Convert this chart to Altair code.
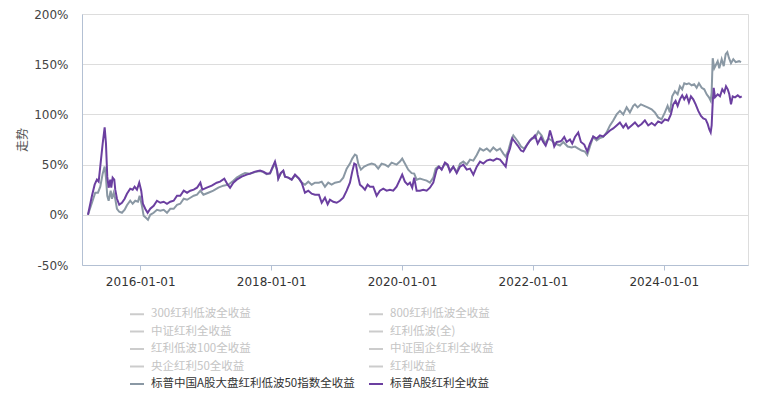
import altair as alt
import pandas as pd

# ---- series names (legend order; the legend fills column by column) ----
SERIES = [
    "300红利低波全收益", "中证红利全收益", "红利低波100全收益", "央企红利50全收益",
    "标普中国A股大盘红利低波50指数全收益",
    "800红利低波全收益", "红利低波(全)", "中证国企红利全收益", "红利收益",
    "标普A股红利全收益",
]
COLORS = ["#cccccc"] * 4 + ["#8a98a4"] + ["#cccccc"] * 4 + ["#6b3fa0"]
ACTIVE = ["标普中国A股大盘红利低波50指数全收益", "标普A股红利全收益"]

# ---- data: (decimal year, cumulative return %) ----
GRAY = [
    (2015.201, 0), (2015.262, 12), (2015.312, 22), (2015.354, 22), (2015.389, 28),
    (2015.426, 41), (2015.456, 48), (2015.476, 37), (2015.496, 19), (2015.517, 14),
    (2015.548, 24), (2015.568, 16), (2015.594, 22), (2015.618, 16), (2015.644, 6),
    (2015.679, 3), (2015.720, 2), (2015.762, 5), (2015.797, 9.5), (2015.847, 14),
    (2015.884, 11), (2015.924, 14), (2015.965, 13), (2015.991, 19), (2016.026, 9),
    (2016.052, -1), (2016.087, -3), (2016.118, -5), (2016.153, 0), (2016.205, 2),
    (2016.255, 5), (2016.306, 4), (2016.358, 5), (2016.408, 2), (2016.458, 6),
    (2016.510, 6), (2016.561, 10), (2016.611, 11), (2016.663, 16), (2016.714, 15),
    (2016.764, 17), (2016.816, 19), (2016.866, 20), (2016.917, 24), (2016.963, 20),
    (2017.039, 22), (2017.115, 24), (2017.192, 27), (2017.268, 29), (2017.345, 30),
    (2017.421, 34), (2017.473, 37), (2017.549, 40), (2017.600, 41.5), (2017.676, 41),
    (2017.752, 42.5), (2017.829, 43.5), (2017.879, 42.5), (2017.931, 40.5), (2017.982, 41),
    (2018.017, 46), (2018.058, 51), (2018.089, 44), (2018.108, 36), (2018.145, 41),
    (2018.185, 43.5), (2018.211, 38), (2018.261, 37), (2018.313, 35), (2018.364, 39.5),
    (2018.425, 36), (2018.466, 32), (2018.516, 30), (2018.567, 33), (2018.619, 30),
    (2018.669, 32), (2018.730, 32), (2018.772, 33), (2018.822, 28), (2018.872, 32),
    (2018.924, 30), (2018.975, 32), (2019.051, 33), (2019.102, 37), (2019.154, 46),
    (2019.204, 51), (2019.239, 56), (2019.280, 60), (2019.306, 59), (2019.331, 51),
    (2019.372, 45), (2019.422, 48), (2019.484, 50), (2019.536, 51), (2019.586, 50),
    (2019.636, 46), (2019.688, 51), (2019.739, 50), (2019.789, 48), (2019.841, 52),
    (2019.917, 50), (2019.968, 53), (2020.003, 56), (2020.044, 51), (2020.095, 45),
    (2020.147, 41.5), (2020.186, 41), (2020.223, 35), (2020.273, 36), (2020.324, 35),
    (2020.376, 34), (2020.426, 32), (2020.477, 37), (2020.513, 46), (2020.553, 48),
    (2020.605, 45.5), (2020.655, 51), (2020.697, 49), (2020.732, 44), (2020.782, 48),
    (2020.834, 42.5), (2020.885, 51), (2020.935, 53), (2020.987, 50), (2021.037, 55),
    (2021.088, 54), (2021.140, 59.5), (2021.190, 66), (2021.241, 64), (2021.293, 66),
    (2021.343, 63), (2021.393, 67), (2021.445, 64), (2021.496, 66), (2021.546, 61),
    (2021.583, 58), (2021.623, 64), (2021.664, 74), (2021.699, 79), (2021.736, 76),
    (2021.775, 72.5), (2021.817, 68), (2021.867, 66), (2021.919, 71), (2021.980, 76),
    (2022.031, 76.5), (2022.081, 83), (2022.133, 79), (2022.183, 71), (2022.234, 76),
    (2022.286, 74), (2022.336, 71), (2022.413, 69), (2022.463, 72.5), (2022.530, 68),
    (2022.591, 67), (2022.642, 68), (2022.692, 66), (2022.744, 64), (2022.794, 63),
    (2022.830, 59.5), (2022.871, 68), (2022.921, 77.5), (2022.973, 74), (2023.024, 76.5),
    (2023.074, 77.5), (2023.126, 82), (2023.177, 89), (2023.227, 94), (2023.279, 100),
    (2023.329, 103.5), (2023.380, 100), (2023.432, 107), (2023.482, 102), (2023.533, 108.5),
    (2023.559, 110), (2023.600, 107), (2023.650, 110), (2023.701, 108.5), (2023.753, 107),
    (2023.814, 105), (2023.864, 102), (2023.914, 97), (2023.966, 95), (2024.017, 102),
    (2024.058, 108.5), (2024.093, 102), (2024.128, 118), (2024.170, 123), (2024.211, 120),
    (2024.246, 128), (2024.281, 125), (2024.312, 131), (2024.348, 130), (2024.383, 131),
    (2024.425, 129), (2024.464, 130), (2024.501, 126.5), (2024.536, 131), (2024.578, 126.5),
    (2024.617, 125), (2024.654, 120), (2024.689, 117), (2024.715, 113.5), (2024.730, 122),
    (2024.746, 156), (2024.770, 146), (2024.792, 149), (2024.822, 153), (2024.846, 146),
    (2024.883, 155), (2024.914, 148), (2024.944, 160), (2024.969, 162), (2024.995, 156),
    (2025.025, 151), (2025.060, 155), (2025.097, 152), (2025.148, 153), (2025.178, 152),
]

PURPLE = [
    (2015.201, 0), (2015.262, 19), (2015.303, 30), (2015.338, 35), (2015.364, 33),
    (2015.384, 45), (2015.426, 71), (2015.456, 87), (2015.476, 71), (2015.496, 38),
    (2015.517, 27), (2015.542, 35), (2015.557, 27), (2015.578, 37), (2015.603, 35),
    (2015.618, 25), (2015.644, 16), (2015.679, 10), (2015.720, 12), (2015.762, 16),
    (2015.797, 21), (2015.847, 26), (2015.884, 25), (2015.914, 28), (2015.950, 25),
    (2015.985, 32), (2016.015, 24), (2016.041, 11), (2016.076, 6), (2016.113, 2),
    (2016.153, 6), (2016.205, 9), (2016.255, 14), (2016.306, 12), (2016.358, 13),
    (2016.408, 11), (2016.458, 13), (2016.510, 14), (2016.561, 19), (2016.611, 19),
    (2016.663, 24), (2016.714, 22), (2016.764, 24), (2016.816, 25), (2016.866, 27),
    (2016.917, 32), (2016.947, 25), (2017.015, 27), (2017.091, 29), (2017.167, 32),
    (2017.218, 33), (2017.283, 36), (2017.335, 30), (2017.371, 27), (2017.421, 32),
    (2017.473, 35), (2017.549, 38), (2017.626, 40), (2017.676, 41), (2017.752, 43),
    (2017.829, 44), (2017.879, 43), (2017.931, 41), (2017.982, 41.5), (2018.017, 47),
    (2018.058, 53), (2018.089, 45), (2018.108, 36), (2018.145, 41.5), (2018.185, 44),
    (2018.211, 38), (2018.261, 37), (2018.313, 35), (2018.364, 40), (2018.425, 36),
    (2018.466, 32), (2018.516, 22), (2018.567, 24), (2018.619, 21), (2018.669, 20),
    (2018.730, 20), (2018.772, 12), (2018.822, 17), (2018.863, 10.5), (2018.898, 15),
    (2018.949, 13), (2019.001, 12), (2019.051, 14), (2019.102, 17), (2019.154, 24),
    (2019.204, 32), (2019.239, 43), (2019.270, 51), (2019.296, 50), (2019.322, 40),
    (2019.357, 30), (2019.392, 28), (2019.433, 25), (2019.474, 30), (2019.510, 28),
    (2019.560, 28), (2019.612, 19), (2019.662, 24), (2019.713, 26), (2019.765, 24),
    (2019.815, 25), (2019.866, 24), (2019.917, 28), (2019.968, 35), (2020.003, 40),
    (2020.044, 33), (2020.086, 30), (2020.121, 32), (2020.156, 27), (2020.186, 37),
    (2020.223, 24), (2020.273, 24), (2020.324, 25), (2020.376, 24), (2020.426, 27),
    (2020.477, 32), (2020.529, 45), (2020.564, 48), (2020.605, 45), (2020.655, 52),
    (2020.697, 50), (2020.732, 43), (2020.782, 48), (2020.834, 41.5), (2020.885, 48),
    (2020.935, 50), (2020.987, 45), (2021.037, 46), (2021.088, 40), (2021.140, 48),
    (2021.190, 53), (2021.241, 51), (2021.293, 54), (2021.343, 55), (2021.393, 54),
    (2021.445, 56), (2021.496, 55), (2021.546, 51), (2021.583, 48), (2021.613, 59.5),
    (2021.649, 66), (2021.684, 76), (2021.725, 72.5), (2021.766, 69), (2021.817, 64),
    (2021.852, 63), (2021.904, 69), (2021.954, 74), (2022.005, 77), (2022.031, 79),
    (2022.072, 71), (2022.122, 77), (2022.157, 72.5), (2022.194, 69), (2022.234, 76),
    (2022.260, 84), (2022.295, 76), (2022.325, 68), (2022.362, 72.5), (2022.413, 73),
    (2022.438, 74), (2022.478, 77.5), (2022.515, 72.5), (2022.565, 75), (2022.600, 71),
    (2022.642, 77.5), (2022.692, 82), (2022.733, 72.5), (2022.784, 70), (2022.830, 63),
    (2022.871, 71), (2022.921, 78), (2022.973, 76), (2023.024, 79), (2023.074, 78),
    (2023.126, 81), (2023.177, 84), (2023.227, 86), (2023.279, 89), (2023.329, 92),
    (2023.380, 87), (2023.421, 90.5), (2023.456, 86), (2023.508, 89), (2023.559, 92),
    (2023.609, 88), (2023.661, 90.5), (2023.711, 94), (2023.762, 89), (2023.814, 91.5),
    (2023.864, 89), (2023.914, 93), (2023.966, 91.5), (2024.017, 95), (2024.067, 94),
    (2024.108, 100), (2024.144, 110), (2024.180, 113.5), (2024.211, 108.5), (2024.246, 115),
    (2024.281, 119), (2024.312, 115), (2024.348, 119), (2024.383, 112), (2024.414, 118),
    (2024.449, 115), (2024.486, 110), (2024.526, 103.5), (2024.567, 98.5), (2024.602, 96),
    (2024.639, 95), (2024.669, 90.5), (2024.694, 85), (2024.715, 82), (2024.730, 89),
    (2024.746, 112), (2024.761, 126.5), (2024.781, 117), (2024.822, 120), (2024.857, 118),
    (2024.892, 125), (2024.923, 122), (2024.949, 128), (2024.975, 125), (2024.999, 120),
    (2025.025, 110), (2025.051, 118), (2025.086, 117), (2025.128, 119), (2025.163, 117),
    (2025.189, 118),
]

Y_TICKS = [-50, 0, 50, 100, 150, 200]
X_TICK_YEARS = [2016, 2018, 2020, 2022, 2024]


def to_date(y):
    yr = int(y)
    start = pd.Timestamp(yr, 1, 1)
    n = (pd.Timestamp(yr + 1, 1, 1) - start).days
    return (start + pd.Timedelta(days=(y - yr) * n)).strftime("%Y-%m-%dT%H:%M:%S")


rows = []
for name, pts in ((ACTIVE[0], GRAY), (ACTIVE[1], PURPLE)):
    for y, v in pts:
        rows.append({"date": to_date(y), "value": v, "series": name})
df = pd.DataFrame(rows)

AXIS_COLOR = "#b3c0d3"

x_enc = alt.X(
    "date:T",
    scale=alt.Scale(domain=[alt.DateTime(year=2015, month=2, date=10),
                            alt.DateTime(year=2025, month=4, date=15)]),
    axis=alt.Axis(
        title=None,
        values=[alt.DateTime(year=y, month=1, date=1) for y in X_TICK_YEARS],
        format="%Y-%m-%d",
        grid=False,
        domainColor=AXIS_COLOR,
        tickColor=AXIS_COLOR,
        tickSize=5,
        labelPadding=6,
        labelColor="#333333",
        labelFont="DejaVu Sans",
        labelFontSize=12,
    ),
)
y_enc = alt.Y(
    "value:Q",
    scale=alt.Scale(domain=[-50, 200], nice=False, zero=False),
    axis=alt.Axis(
        title="走势",
        titleFont="Noto Sans CJK SC",
        titleFontSize=12,
        titleFontWeight="normal",
        titleColor="#555555",
        titlePadding=4,
        values=Y_TICKS,
        labelExpr="datum.value + '%'",
        grid=True,
        gridColor="#dddddd",
        ticks=False,
        domainColor=AXIS_COLOR,
        labelPadding=14,
        labelColor="#444444",
        labelFont="DejaVu Sans",
        labelFontSize=12,
    ),
)
color_enc = alt.Color(
    "series:N",
    scale=alt.Scale(domain=SERIES, range=COLORS),
    legend=alt.Legend(
        title=None,
        orient="none",
        legendX=47,
        legendY=292,
        columns=2,
        columnPadding=10,
        rowPadding=3.5,
        symbolType="stroke",
        symbolSize=196,
        symbolStrokeWidth=2,
        labelFont="Noto Sans CJK SC",
        labelFontSize=11.5,
        labelLimit=400,
        labelOffset=6,
        labelColor={"expr": "(datum.value == '%s' || datum.value == '%s') ? '#333333' : '#c4c4c4'" % (ACTIVE[0], ACTIVE[1])},
    ),
)

gray = alt.Chart(df).transform_filter(
    alt.datum.series == ACTIVE[0]
).mark_line(strokeWidth=2).encode(x=x_enc, y=y_enc, color=color_enc)

purple = alt.Chart(df).transform_filter(
    alt.datum.series == ACTIVE[1]
).mark_line(strokeWidth=2).encode(x=x_enc, y=y_enc, color=color_enc)

chart = alt.layer(gray, purple).properties(
    width=666,
    height=251,
    autosize=alt.AutoSizeParams(type="none"),
    padding={"left": 74, "top": 6, "right": 2, "bottom": 127},
).configure_view(stroke=None).configure(background="#ffffff")

chart.save("out.html", embed_options={"renderer": "svg", "actions": False})
